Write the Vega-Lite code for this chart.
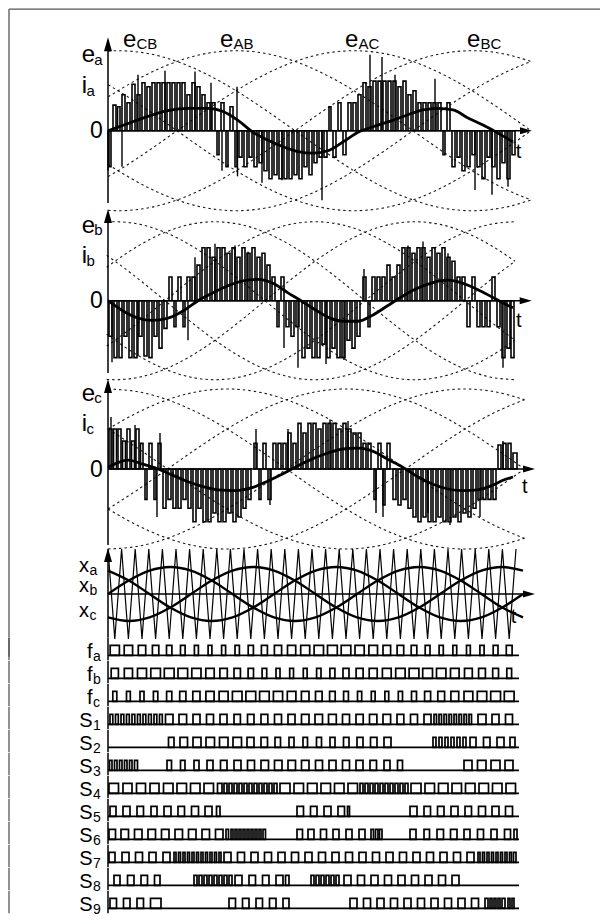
{
"$schema":"https://vega.github.io/schema/vega-lite/v6.json",
"padding":0,"spacing":0,"bounds":"flush","background":"white",
"config":{"view":{"stroke":null},"axis":{"disable":true},"text":{"font":"Liberation Sans","color":"black"},"facet":{"spacing":0},"concat":{"spacing":0}},
"datasets":{
"volt":[
{"h":-5,"k":0,"v":0.996},{"h":0,"k":0,"v":1},{"h":15,"k":0,"v":0.966},{"h":30,"k":0,"v":0.866},{"h":45,"k":0,"v":0.707},{"h":60,"k":0,"v":0.5},{"h":75,"k":0,"v":0.259},{"h":90,"k":0,"v":0},{"h":105,"k":0,"v":-0.259},{"h":120,"k":0,"v":-0.5},{"h":135,"k":0,"v":-0.707},{"h":150,"k":0,"v":-0.866},{"h":165,"k":0,"v":-0.966},{"h":180,"k":0,"v":-1},{"h":195,"k":0,"v":-0.966},{"h":210,"k":0,"v":-0.866},{"h":225,"k":0,"v":-0.707},{"h":240,"k":0,"v":-0.5},
{"h":-5,"k":1,"v":0.574},{"h":0,"k":1,"v":0.5},{"h":15,"k":1,"v":0.259},{"h":30,"k":1,"v":0},{"h":45,"k":1,"v":-0.259},{"h":60,"k":1,"v":-0.5},{"h":75,"k":1,"v":-0.707},{"h":90,"k":1,"v":-0.866},{"h":105,"k":1,"v":-0.966},{"h":120,"k":1,"v":-1},{"h":135,"k":1,"v":-0.966},{"h":150,"k":1,"v":-0.866},{"h":165,"k":1,"v":-0.707},{"h":180,"k":1,"v":-0.5},{"h":195,"k":1,"v":-0.259},{"h":210,"k":1,"v":0},{"h":225,"k":1,"v":0.259},{"h":240,"k":1,"v":0.5},
{"h":-5,"k":2,"v":-0.423},{"h":0,"k":2,"v":-0.5},{"h":15,"k":2,"v":-0.707},{"h":30,"k":2,"v":-0.866},{"h":45,"k":2,"v":-0.966},{"h":60,"k":2,"v":-1},{"h":75,"k":2,"v":-0.966},{"h":90,"k":2,"v":-0.866},{"h":105,"k":2,"v":-0.707},{"h":120,"k":2,"v":-0.5},{"h":135,"k":2,"v":-0.259},{"h":150,"k":2,"v":0},{"h":165,"k":2,"v":0.259},{"h":180,"k":2,"v":0.5},{"h":195,"k":2,"v":0.707},{"h":210,"k":2,"v":0.866},{"h":225,"k":2,"v":0.966},{"h":240,"k":2,"v":1},
{"h":-5,"k":3,"v":-0.996},{"h":0,"k":3,"v":-1},{"h":15,"k":3,"v":-0.966},{"h":30,"k":3,"v":-0.866},{"h":45,"k":3,"v":-0.707},{"h":60,"k":3,"v":-0.5},{"h":75,"k":3,"v":-0.259},{"h":90,"k":3,"v":0},{"h":105,"k":3,"v":0.259},{"h":120,"k":3,"v":0.5},{"h":135,"k":3,"v":0.707},{"h":150,"k":3,"v":0.866},{"h":165,"k":3,"v":0.966},{"h":180,"k":3,"v":1},{"h":195,"k":3,"v":0.966},{"h":210,"k":3,"v":0.866},{"h":225,"k":3,"v":0.707},{"h":240,"k":3,"v":0.5},
{"h":-5,"k":4,"v":-0.574},{"h":0,"k":4,"v":-0.5},{"h":15,"k":4,"v":-0.259},{"h":30,"k":4,"v":0},{"h":45,"k":4,"v":0.259},{"h":60,"k":4,"v":0.5},{"h":75,"k":4,"v":0.707},{"h":90,"k":4,"v":0.866},{"h":105,"k":4,"v":0.966},{"h":120,"k":4,"v":1},{"h":135,"k":4,"v":0.966},{"h":150,"k":4,"v":0.866},{"h":165,"k":4,"v":0.707},{"h":180,"k":4,"v":0.5},{"h":195,"k":4,"v":0.259},{"h":210,"k":4,"v":0},{"h":225,"k":4,"v":-0.259},{"h":240,"k":4,"v":-0.5},
{"h":-5,"k":5,"v":0.423},{"h":0,"k":5,"v":0.5},{"h":15,"k":5,"v":0.707},{"h":30,"k":5,"v":0.866},{"h":45,"k":5,"v":0.966},{"h":60,"k":5,"v":1},{"h":75,"k":5,"v":0.966},{"h":90,"k":5,"v":0.866},{"h":105,"k":5,"v":0.707},{"h":120,"k":5,"v":0.5},{"h":135,"k":5,"v":0.259},{"h":150,"k":5,"v":0},{"h":165,"k":5,"v":-0.259},{"h":180,"k":5,"v":-0.5},{"h":195,"k":5,"v":-0.707},{"h":210,"k":5,"v":-0.866},{"h":225,"k":5,"v":-0.966},{"h":240,"k":5,"v":-1}
],
"cur":[
{"p":"a","t":0,"v":0},{"p":"a","t":20,"v":0.09},{"p":"a","t":40,"v":0.18},{"p":"a","t":60,"v":0.25},{"p":"a","t":80,"v":0.28},{"p":"a","t":100,"v":0.28},{"p":"a","t":115,"v":0.24},{"p":"a","t":130,"v":0.13},{"p":"a","t":145,"v":-0.02},{"p":"a","t":160,"v":-0.12},{"p":"a","t":175,"v":-0.2},{"p":"a","t":190,"v":-0.26},{"p":"a","t":205,"v":-0.28},{"p":"a","t":220,"v":-0.25},{"p":"a","t":235,"v":-0.14},{"p":"a","t":250,"v":-0.02},{"p":"a","t":265,"v":0.05},{"p":"a","t":280,"v":0.11},{"p":"a","t":300,"v":0.2},{"p":"a","t":315,"v":0.26},{"p":"a","t":330,"v":0.28},{"p":"a","t":345,"v":0.26},{"p":"a","t":360,"v":0.16},{"p":"a","t":375,"v":0.07},{"p":"a","t":390,"v":-0.03},{"p":"a","t":405,"v":-0.14},
{"p":"b","t":0,"v":0},{"p":"b","t":15,"v":-0.13},{"p":"b","t":30,"v":-0.22},{"p":"b","t":44,"v":-0.25},{"p":"b","t":60,"v":-0.22},{"p":"b","t":75,"v":-0.13},{"p":"b","t":90,"v":0},{"p":"b","t":105,"v":0.1},{"p":"b","t":120,"v":0.19},{"p":"b","t":135,"v":0.25},{"p":"b","t":150,"v":0.27},{"p":"b","t":165,"v":0.22},{"p":"b","t":180,"v":0.1},{"p":"b","t":193,"v":0},{"p":"b","t":208,"v":-0.12},{"p":"b","t":222,"v":-0.22},{"p":"b","t":236,"v":-0.26},{"p":"b","t":250,"v":-0.26},{"p":"b","t":265,"v":-0.18},{"p":"b","t":280,"v":-0.06},{"p":"b","t":295,"v":0.06},{"p":"b","t":310,"v":0.16},{"p":"b","t":325,"v":0.23},{"p":"b","t":340,"v":0.26},{"p":"b","t":355,"v":0.22},{"p":"b","t":370,"v":0.14},{"p":"b","t":385,"v":0.04},{"p":"b","t":400,"v":-0.06},{"p":"b","t":405,"v":-0.09},
{"p":"c","t":0,"v":0.02},{"p":"c","t":10,"v":0.08},{"p":"c","t":20,"v":0.11},{"p":"c","t":35,"v":0.06},{"p":"c","t":50,"v":0},{"p":"c","t":65,"v":-0.08},{"p":"c","t":80,"v":-0.16},{"p":"c","t":95,"v":-0.22},{"p":"c","t":110,"v":-0.26},{"p":"c","t":127,"v":-0.27},{"p":"c","t":145,"v":-0.23},{"p":"c","t":160,"v":-0.15},{"p":"c","t":175,"v":-0.06},{"p":"c","t":190,"v":0.04},{"p":"c","t":205,"v":0.13},{"p":"c","t":220,"v":0.2},{"p":"c","t":235,"v":0.25},{"p":"c","t":250,"v":0.26},{"p":"c","t":265,"v":0.22},{"p":"c","t":280,"v":0.12},{"p":"c","t":295,"v":0.02},{"p":"c","t":310,"v":-0.1},{"p":"c","t":325,"v":-0.19},{"p":"c","t":340,"v":-0.25},{"p":"c","t":355,"v":-0.27},{"p":"c","t":370,"v":-0.26},{"p":"c","t":385,"v":-0.2},{"p":"c","t":395,"v":-0.14},{"p":"c","t":405,"v":-0.1}
],
"pwm":[
{"p":"a","a":1,"b":3,"v":-0.45},{"p":"a","a":5,"b":8,"v":0.32},{"p":"a","a":9.5,"b":12,"v":0.3},{"p":"a","a":14,"b":17,"v":0.45},{"p":"a","a":19,"b":22,"v":0.35},{"p":"a","a":24,"b":27,"v":0.58},{"p":"a","a":29,"b":32,"v":0.45},{"p":"a","a":34,"b":37,"v":0.6},{"p":"a","a":39,"b":42,"v":0.55},{"p":"a","a":44,"b":47,"v":0.6},{"p":"a","a":49,"b":52,"v":0.6},{"p":"a","a":54,"b":57,"v":0.6},{"p":"a","a":59,"b":62,"v":0.6},{"p":"a","a":64,"b":67,"v":0.6},{"p":"a","a":69,"b":72,"v":0.6},{"p":"a","a":74,"b":77,"v":0.6},{"p":"a","a":79,"b":82,"v":0.45},{"p":"a","a":84,"b":87,"v":0.6},{"p":"a","a":89,"b":92,"v":0.55},{"p":"a","a":94,"b":97,"v":0.45},{"p":"a","a":99,"b":102,"v":0.35},{"p":"a","a":104,"b":107,"v":0.35},{"p":"a","a":109,"b":111,"v":-0.3},{"p":"a","a":113,"b":116,"v":0.35},{"p":"a","a":118,"b":120,"v":-0.45},{"p":"a","a":122,"b":125,"v":0.3},{"p":"a","a":127,"b":129,"v":-0.45},{"p":"a","a":131,"b":134,"v":-0.33},{"p":"a","a":136,"b":139,"v":-0.45},{"p":"a","a":141,"b":144,"v":-0.33},{"p":"a","a":146,"b":149,"v":-0.45},{"p":"a","a":151,"b":154,"v":-0.4},{"p":"a","a":156,"b":159,"v":-0.5},{"p":"a","a":161,"b":164,"v":-0.6},{"p":"a","a":166,"b":169,"v":-0.55},{"p":"a","a":171,"b":174,"v":-0.6},{"p":"a","a":176,"b":179,"v":-0.6},{"p":"a","a":181,"b":184,"v":-0.6},{"p":"a","a":186,"b":189,"v":-0.55},{"p":"a","a":191,"b":194,"v":-0.6},{"p":"a","a":196,"b":199,"v":-0.45},{"p":"a","a":201,"b":204,"v":-0.55},{"p":"a","a":206,"b":209,"v":-0.4},{"p":"a","a":211,"b":214,"v":-0.33},{"p":"a","a":216,"b":219,"v":-0.33},{"p":"a","a":221,"b":223,"v":0.3},{"p":"a","a":225,"b":228,"v":-0.33},{"p":"a","a":230,"b":233,"v":0.35},{"p":"a","a":235,"b":238,"v":-0.3},{"p":"a","a":240,"b":243,"v":0.35},{"p":"a","a":245,"b":248,"v":0.35},{"p":"a","a":250,"b":253,"v":0.45},{"p":"a","a":255,"b":258,"v":0.6},{"p":"a","a":260,"b":263,"v":0.55},{"p":"a","a":265,"b":268,"v":0.62},{"p":"a","a":270,"b":273,"v":0.62},{"p":"a","a":275,"b":278,"v":0.62},{"p":"a","a":280,"b":283,"v":0.62},{"p":"a","a":285,"b":288,"v":0.62},{"p":"a","a":290,"b":293,"v":0.55},{"p":"a","a":295,"b":298,"v":0.62},{"p":"a","a":300,"b":303,"v":0.45},{"p":"a","a":305,"b":308,"v":0.5},{"p":"a","a":310,"b":313,"v":0.35},{"p":"a","a":315,"b":318,"v":0.35},{"p":"a","a":320,"b":323,"v":0.35},{"p":"a","a":325,"b":328,"v":0.35},{"p":"a","a":330,"b":333,"v":0.35},{"p":"a","a":335,"b":337,"v":-0.3},{"p":"a","a":339,"b":342,"v":0.35},{"p":"a","a":344,"b":347,"v":-0.45},{"p":"a","a":349,"b":352,"v":-0.33},{"p":"a","a":354,"b":357,"v":-0.5},{"p":"a","a":359,"b":362,"v":-0.45},{"p":"a","a":364,"b":367,"v":-0.3},{"p":"a","a":369,"b":372,"v":-0.45},{"p":"a","a":374,"b":377,"v":-0.6},{"p":"a","a":379,"b":382,"v":-0.33},{"p":"a","a":384,"b":387,"v":-0.45},{"p":"a","a":389,"b":392,"v":-0.6},{"p":"a","a":394,"b":397,"v":-0.4},{"p":"a","a":399,"b":402,"v":-0.6},{"p":"a","a":404,"b":407,"v":-0.3},
{"p":"b","a":1,"b":4,"v":-0.45},{"p":"b","a":6,"b":9,"v":-0.72},{"p":"b","a":11,"b":14,"v":-0.72},{"p":"b","a":16,"b":19,"v":-0.45},{"p":"b","a":21,"b":24,"v":-0.72},{"p":"b","a":26,"b":29,"v":-0.72},{"p":"b","a":31,"b":34,"v":-0.45},{"p":"b","a":36,"b":39,"v":-0.7},{"p":"b","a":41,"b":44,"v":-0.72},{"p":"b","a":46,"b":49,"v":-0.45},{"p":"b","a":51,"b":54,"v":-0.6},{"p":"b","a":56,"b":59,"v":-0.35},{"p":"b","a":61,"b":64,"v":0.3},{"p":"b","a":66,"b":68,"v":-0.33},{"p":"b","a":70,"b":73,"v":0.3},{"p":"b","a":75,"b":77,"v":-0.33},{"p":"b","a":79,"b":82,"v":0.3},{"p":"b","a":84,"b":87,"v":0.3},{"p":"b","a":89,"b":92,"v":0.45},{"p":"b","a":94,"b":97,"v":0.67},{"p":"b","a":99,"b":102,"v":0.67},{"p":"b","a":104,"b":107,"v":0.55},{"p":"b","a":109,"b":112,"v":0.67},{"p":"b","a":114,"b":117,"v":0.67},{"p":"b","a":119,"b":122,"v":0.6},{"p":"b","a":124,"b":127,"v":0.67},{"p":"b","a":129,"b":132,"v":0.55},{"p":"b","a":134,"b":137,"v":0.67},{"p":"b","a":139,"b":142,"v":0.6},{"p":"b","a":144,"b":147,"v":0.67},{"p":"b","a":149,"b":152,"v":0.55},{"p":"b","a":154,"b":157,"v":0.6},{"p":"b","a":159,"b":162,"v":0.45},{"p":"b","a":164,"b":167,"v":0.3},{"p":"b","a":169,"b":171,"v":-0.33},{"p":"b","a":173,"b":176,"v":0.3},{"p":"b","a":178,"b":181,"v":-0.33},{"p":"b","a":183,"b":186,"v":-0.45},{"p":"b","a":188,"b":191,"v":-0.33},{"p":"b","a":194,"b":197,"v":-0.72},{"p":"b","a":199,"b":202,"v":-0.6},{"p":"b","a":204,"b":207,"v":-0.72},{"p":"b","a":209,"b":212,"v":-0.72},{"p":"b","a":214,"b":217,"v":-0.55},{"p":"b","a":219,"b":222,"v":-0.72},{"p":"b","a":224,"b":227,"v":-0.6},{"p":"b","a":229,"b":232,"v":-0.72},{"p":"b","a":234,"b":237,"v":-0.72},{"p":"b","a":239,"b":242,"v":-0.5},{"p":"b","a":244,"b":247,"v":-0.6},{"p":"b","a":249,"b":252,"v":-0.45},{"p":"b","a":255,"b":258,"v":0.3},{"p":"b","a":260,"b":262,"v":-0.33},{"p":"b","a":264,"b":267,"v":0.3},{"p":"b","a":269,"b":272,"v":0.3},{"p":"b","a":274,"b":277,"v":0.3},{"p":"b","a":279,"b":282,"v":0.45},{"p":"b","a":284,"b":287,"v":0.3},{"p":"b","a":289,"b":292,"v":0.45},{"p":"b","a":294,"b":297,"v":0.67},{"p":"b","a":299,"b":302,"v":0.67},{"p":"b","a":304,"b":307,"v":0.6},{"p":"b","a":309,"b":312,"v":0.67},{"p":"b","a":314,"b":317,"v":0.67},{"p":"b","a":319,"b":322,"v":0.55},{"p":"b","a":324,"b":327,"v":0.67},{"p":"b","a":329,"b":332,"v":0.6},{"p":"b","a":334,"b":337,"v":0.67},{"p":"b","a":339,"b":342,"v":0.55},{"p":"b","a":344,"b":347,"v":0.5},{"p":"b","a":349,"b":352,"v":0.3},{"p":"b","a":354,"b":357,"v":0.3},{"p":"b","a":359,"b":362,"v":-0.33},{"p":"b","a":364,"b":367,"v":0.3},{"p":"b","a":369,"b":372,"v":-0.33},{"p":"b","a":374,"b":377,"v":-0.33},{"p":"b","a":379,"b":382,"v":-0.33},{"p":"b","a":384,"b":387,"v":0.3},{"p":"b","a":389,"b":392,"v":-0.33},{"p":"b","a":394,"b":397,"v":-0.72},{"p":"b","a":399,"b":402,"v":-0.6},{"p":"b","a":403,"b":406,"v":-0.72},
{"p":"c","a":1,"b":4,"v":0.5},{"p":"c","a":5.5,"b":8.5,"v":0.5},{"p":"c","a":10,"b":13,"v":0.5},{"p":"c","a":14.5,"b":17.5,"v":0.35},{"p":"c","a":19,"b":22,"v":0.5},{"p":"c","a":23.5,"b":26.5,"v":0.35},{"p":"c","a":28,"b":31,"v":0.5},{"p":"c","a":32.5,"b":35,"v":0.32},{"p":"c","a":37,"b":39,"v":-0.38},{"p":"c","a":41,"b":44,"v":0.32},{"p":"c","a":46,"b":48,"v":-0.38},{"p":"c","a":50,"b":53,"v":0.32},{"p":"c","a":55,"b":58,"v":-0.49},{"p":"c","a":60,"b":63,"v":-0.38},{"p":"c","a":65,"b":68,"v":-0.49},{"p":"c","a":70,"b":73,"v":-0.49},{"p":"c","a":75,"b":78,"v":-0.38},{"p":"c","a":80,"b":83,"v":-0.49},{"p":"c","a":85,"b":88,"v":-0.66},{"p":"c","a":90,"b":93,"v":-0.49},{"p":"c","a":95,"b":98,"v":-0.66},{"p":"c","a":100,"b":103,"v":-0.66},{"p":"c","a":105,"b":108,"v":-0.55},{"p":"c","a":110,"b":113,"v":-0.66},{"p":"c","a":115,"b":118,"v":-0.66},{"p":"c","a":120,"b":123,"v":-0.55},{"p":"c","a":125,"b":128,"v":-0.66},{"p":"c","a":130,"b":133,"v":-0.6},{"p":"c","a":135,"b":138,"v":-0.49},{"p":"c","a":140,"b":143,"v":-0.38},{"p":"c","a":146,"b":149,"v":0.32},{"p":"c","a":151,"b":153,"v":-0.38},{"p":"c","a":155,"b":158,"v":0.32},{"p":"c","a":160,"b":163,"v":-0.38},{"p":"c","a":165,"b":168,"v":0.32},{"p":"c","a":170,"b":173,"v":0.32},{"p":"c","a":175,"b":178,"v":0.32},{"p":"c","a":180,"b":183,"v":0.45},{"p":"c","a":185,"b":188,"v":0.32},{"p":"c","a":190,"b":193,"v":0.57},{"p":"c","a":195,"b":198,"v":0.45},{"p":"c","a":200,"b":203,"v":0.57},{"p":"c","a":205,"b":208,"v":0.57},{"p":"c","a":210,"b":213,"v":0.5},{"p":"c","a":215,"b":218,"v":0.57},{"p":"c","a":220,"b":223,"v":0.57},{"p":"c","a":225,"b":228,"v":0.57},{"p":"c","a":230,"b":233,"v":0.5},{"p":"c","a":235,"b":238,"v":0.57},{"p":"c","a":240,"b":243,"v":0.5},{"p":"c","a":245,"b":248,"v":0.45},{"p":"c","a":250,"b":253,"v":0.45},{"p":"c","a":255,"b":258,"v":0.32},{"p":"c","a":260,"b":263,"v":0.32},{"p":"c","a":266,"b":268,"v":-0.38},{"p":"c","a":270,"b":273,"v":0.32},{"p":"c","a":275,"b":277,"v":-0.45},{"p":"c","a":279,"b":282,"v":0.32},{"p":"c","a":285,"b":288,"v":-0.38},{"p":"c","a":290,"b":293,"v":-0.45},{"p":"c","a":295,"b":298,"v":-0.38},{"p":"c","a":300,"b":303,"v":-0.49},{"p":"c","a":305,"b":308,"v":-0.6},{"p":"c","a":310,"b":313,"v":-0.66},{"p":"c","a":315,"b":318,"v":-0.6},{"p":"c","a":320,"b":323,"v":-0.66},{"p":"c","a":325,"b":328,"v":-0.66},{"p":"c","a":330,"b":333,"v":-0.6},{"p":"c","a":335,"b":338,"v":-0.66},{"p":"c","a":340,"b":343,"v":-0.66},{"p":"c","a":345,"b":348,"v":-0.6},{"p":"c","a":350,"b":353,"v":-0.66},{"p":"c","a":355,"b":358,"v":-0.55},{"p":"c","a":360,"b":363,"v":-0.6},{"p":"c","a":365,"b":368,"v":-0.49},{"p":"c","a":370,"b":373,"v":-0.38},{"p":"c","a":375,"b":378,"v":-0.38},{"p":"c","a":380,"b":383,"v":-0.38},{"p":"c","a":385,"b":388,"v":-0.38},{"p":"c","a":390,"b":393,"v":0.3},{"p":"c","a":395,"b":398,"v":0.32},{"p":"c","a":400,"b":403,"v":0.32},{"p":"c","a":405,"b":409,"v":0.2}
],
"spk":[
{"p":"a","t":0,"v":-0.5},{"p":"a","t":14,"v":-0.45},{"p":"a","t":30,"v":0.7},{"p":"a","t":57,"v":0.75},{"p":"a","t":87,"v":0.74},{"p":"a","t":103,"v":0.6},{"p":"a","t":114,"v":-0.5},{"p":"a","t":129,"v":0.55},{"p":"a","t":129.5,"v":-0.57},{"p":"a","t":154,"v":-0.65},{"p":"a","t":174,"v":-0.62},{"p":"a","t":214,"v":-0.87},{"p":"a","t":262,"v":0.95},{"p":"a","t":274,"v":0.92},{"p":"a","t":287,"v":0.7},{"p":"a","t":327,"v":0.65},{"p":"a","t":367,"v":-0.74},{"p":"a","t":384,"v":-0.8},{"p":"a","t":400,"v":-0.7},
{"p":"b","t":4,"v":-0.78},{"p":"b","t":30,"v":-0.7},{"p":"b","t":80,"v":-0.5},{"p":"b","t":87,"v":0.55},{"p":"b","t":107,"v":0.72},{"p":"b","t":127,"v":0.7},{"p":"b","t":140,"v":0.62},{"p":"b","t":176,"v":-0.6},{"p":"b","t":190,"v":-0.85},{"p":"b","t":218,"v":-0.8},{"p":"b","t":236,"v":-0.75},{"p":"b","t":256,"v":0.4},{"p":"b","t":300,"v":0.7},{"p":"b","t":315,"v":0.75},{"p":"b","t":340,"v":0.6},{"p":"b","t":395,"v":-0.85},
{"p":"c","t":3,"v":0.65},{"p":"c","t":27,"v":0.55},{"p":"c","t":49,"v":-0.6},{"p":"c","t":52,"v":0.45},{"p":"c","t":148,"v":0.5},{"p":"c","t":162,"v":-0.45},{"p":"c","t":180,"v":0.5},{"p":"c","t":222,"v":0.62},{"p":"c","t":240,"v":0.6},{"p":"c","t":268,"v":-0.55},{"p":"c","t":275,"v":-0.6},{"p":"c","t":320,"v":-0.55},{"p":"c","t":342,"v":-0.7},{"p":"c","t":372,"v":-0.6},{"p":"c","t":395,"v":0.35}
],
"car":[
{"t":0,"v":1},{"t":6.8,"v":-1},{"t":13.6,"v":1},{"t":20.4,"v":-1},{"t":27.2,"v":1},{"t":34,"v":-1},{"t":40.8,"v":1},{"t":47.6,"v":-1},{"t":54.4,"v":1},{"t":61.2,"v":-1},{"t":68,"v":1},{"t":74.8,"v":-1},{"t":81.6,"v":1},{"t":88.4,"v":-1},{"t":95.2,"v":1},{"t":102,"v":-1},{"t":108.8,"v":1},{"t":115.6,"v":-1},{"t":122.4,"v":1},{"t":129.2,"v":-1},{"t":136,"v":1},{"t":142.8,"v":-1},{"t":149.6,"v":1},{"t":156.4,"v":-1},{"t":163.2,"v":1},{"t":170,"v":-1},{"t":176.8,"v":1},{"t":183.6,"v":-1},{"t":190.4,"v":1},{"t":197.2,"v":-1},{"t":204,"v":1},{"t":210.8,"v":-1},{"t":217.6,"v":1},{"t":224.4,"v":-1},{"t":231.2,"v":1},{"t":238,"v":-1},{"t":244.8,"v":1},{"t":251.6,"v":-1},{"t":258.4,"v":1},{"t":265.2,"v":-1},{"t":272,"v":1},{"t":278.8,"v":-1},{"t":285.6,"v":1},{"t":292.4,"v":-1},{"t":299.2,"v":1},{"t":306,"v":-1},{"t":312.8,"v":1},{"t":319.6,"v":-1},{"t":326.4,"v":1},{"t":333.2,"v":-1},{"t":340,"v":1},{"t":346.8,"v":-1},{"t":353.6,"v":1},{"t":360.4,"v":-1},{"t":367.2,"v":1},{"t":374,"v":-1},{"t":380.8,"v":1},{"t":387.6,"v":-1},{"t":394.4,"v":1},{"t":401.2,"v":-1},{"t":408,"v":1}
],
"mod":[
{"n":"a","t":0,"v":0.52},{"n":"a","t":20.75,"v":0.3},{"n":"a","t":41.5,"v":0},{"n":"a","t":62.25,"v":-0.3},{"n":"a","t":83,"v":-0.52},{"n":"a","t":103.75,"v":-0.6},{"n":"a","t":124.5,"v":-0.52},{"n":"a","t":145.25,"v":-0.3},{"n":"a","t":166,"v":0},{"n":"a","t":186.75,"v":0.3},{"n":"a","t":207.5,"v":0.52},{"n":"a","t":228.25,"v":0.6},{"n":"a","t":249,"v":0.52},{"n":"a","t":269.75,"v":0.3},{"n":"a","t":290.5,"v":0},{"n":"a","t":311.25,"v":-0.3},{"n":"a","t":332,"v":-0.52},{"n":"a","t":352.75,"v":-0.6},{"n":"a","t":373.5,"v":-0.52},{"n":"a","t":394.25,"v":-0.3},{"n":"a","t":415,"v":0},
{"n":"b","t":0,"v":0},{"n":"b","t":20.75,"v":0.3},{"n":"b","t":41.5,"v":0.52},{"n":"b","t":62.25,"v":0.6},{"n":"b","t":83,"v":0.52},{"n":"b","t":103.75,"v":0.3},{"n":"b","t":124.5,"v":0},{"n":"b","t":145.25,"v":-0.3},{"n":"b","t":166,"v":-0.52},{"n":"b","t":186.75,"v":-0.6},{"n":"b","t":207.5,"v":-0.52},{"n":"b","t":228.25,"v":-0.3},{"n":"b","t":249,"v":0},{"n":"b","t":269.75,"v":0.3},{"n":"b","t":290.5,"v":0.52},{"n":"b","t":311.25,"v":0.6},{"n":"b","t":332,"v":0.52},{"n":"b","t":352.75,"v":0.3},{"n":"b","t":373.5,"v":0},{"n":"b","t":394.25,"v":-0.3},{"n":"b","t":415,"v":-0.52},
{"n":"c","t":0,"v":-0.52},{"n":"c","t":20.75,"v":-0.6},{"n":"c","t":41.5,"v":-0.52},{"n":"c","t":62.25,"v":-0.3},{"n":"c","t":83,"v":0},{"n":"c","t":103.75,"v":0.3},{"n":"c","t":124.5,"v":0.52},{"n":"c","t":145.25,"v":0.6},{"n":"c","t":166,"v":0.52},{"n":"c","t":186.75,"v":0.3},{"n":"c","t":207.5,"v":0},{"n":"c","t":228.25,"v":-0.3},{"n":"c","t":249,"v":-0.52},{"n":"c","t":269.75,"v":-0.6},{"n":"c","t":290.5,"v":-0.52},{"n":"c","t":311.25,"v":-0.3},{"n":"c","t":332,"v":0},{"n":"c","t":352.75,"v":0.3},{"n":"c","t":373.5,"v":0.52},{"n":"c","t":394.25,"v":0.6},{"n":"c","t":415,"v":0.52}
],
"pul":[
{"s":"fa","m":"f","u":"a"},{"s":"fb","m":"f","u":"b"},{"s":"fc","m":"f","u":"c"},{"s":"S1","m":"S","u":"1"},{"s":"S2","m":"S","u":"2"},{"s":"S3","m":"S","u":"3"},{"s":"S4","m":"S","u":"4"},{"s":"S5","m":"S","u":"5"},{"s":"S6","m":"S","u":"6"},{"s":"S7","m":"S","u":"7"},{"s":"S8","m":"S","u":"8"},{"s":"S9","m":"S","u":"9"},
{"s":"fa","a":2.2,"b":11.4},{"s":"fa","a":16.2,"b":24.6},{"s":"fa","a":30.3,"b":37.7},{"s":"fa","a":44.4,"b":50.8},{"s":"fa","a":58.5,"b":63.9},{"s":"fa","a":72.5,"b":77.1},{"s":"fa","a":86.4,"b":90.4},{"s":"fa","a":100.1,"b":103.9},{"s":"fa","a":113.6,"b":117.6},{"s":"fa","a":127,"b":131.4},{"s":"fa","a":140.2,"b":145.4},{"s":"fa","a":153.4,"b":159.4},{"s":"fa","a":166.4,"b":173.6},{"s":"fa","a":179.5,"b":187.7},{"s":"fa","a":192.7,"b":201.7},{"s":"fa","a":206.1,"b":215.5},{"s":"fa","a":219.5,"b":229.3},{"s":"fa","a":233.2,"b":242.8},{"s":"fa","a":247,"b":256.2},{"s":"fa","a":260.9,"b":269.5},{"s":"fa","a":275,"b":282.6},{"s":"fa","a":289.1,"b":295.7},{"s":"fa","a":303.2,"b":308.8},{"s":"fa","a":317.2,"b":322},{"s":"fa","a":331.1,"b":335.3},{"s":"fa","a":344.9,"b":348.7},{"s":"fa","a":358.5,"b":362.3},{"s":"fa","a":371.9,"b":376.1},{"s":"fa","a":385.2,"b":390},{"s":"fa","a":398.3,"b":404.1},
{"s":"fb","a":3.2,"b":10.4},{"s":"fb","a":16.3,"b":24.5},{"s":"fb","a":29.5,"b":38.5},{"s":"fb","a":42.8,"b":52.4},{"s":"fb","a":56.3,"b":66.1},{"s":"fb","a":70,"b":79.6},{"s":"fb","a":83.8,"b":93},{"s":"fb","a":97.8,"b":106.2},{"s":"fb","a":111.9,"b":119.3},{"s":"fb","a":126,"b":132.4},{"s":"fb","a":140.1,"b":145.5},{"s":"fb","a":154.1,"b":158.7},{"s":"fb","a":168,"b":172},{"s":"fb","a":181.7,"b":185.5},{"s":"fb","a":195.3,"b":199.1},{"s":"fb","a":208.6,"b":213},{"s":"fb","a":221.9,"b":226.9},{"s":"fb","a":235,"b":241},{"s":"fb","a":248.1,"b":255.1},{"s":"fb","a":261.2,"b":269.2},{"s":"fb","a":274.4,"b":283.2},{"s":"fb","a":287.7,"b":297.1},{"s":"fb","a":301.1,"b":310.9},{"s":"fb","a":314.7,"b":324.5},{"s":"fb","a":328.5,"b":337.9},{"s":"fb","a":342.5,"b":351.1},{"s":"fb","a":356.5,"b":364.3},{"s":"fb","a":370.6,"b":377.4},{"s":"fb","a":384.7,"b":390.5},{"s":"fb","a":398.8,"b":403.6},
{"s":"fc","a":4.8,"b":8.8},{"s":"fc","a":18.5,"b":22.3},{"s":"fc","a":32,"b":36},{"s":"fc","a":45.4,"b":49.8},{"s":"fc","a":58.6,"b":63.8},{"s":"fc","a":71.7,"b":77.9},{"s":"fc","a":84.8,"b":92},{"s":"fc","a":97.9,"b":106.1},{"s":"fc","a":111.1,"b":120.1},{"s":"fc","a":124.4,"b":134},{"s":"fc","a":137.9,"b":147.7},{"s":"fc","a":151.6,"b":161.2},{"s":"fc","a":165.4,"b":174.6},{"s":"fc","a":179.3,"b":187.9},{"s":"fc","a":193.4,"b":201},{"s":"fc","a":207.5,"b":214.1},{"s":"fc","a":221.6,"b":227.2},{"s":"fc","a":235.6,"b":240.4},{"s":"fc","a":249.5,"b":253.7},{"s":"fc","a":263.3,"b":267.1},{"s":"fc","a":276.9,"b":280.7},{"s":"fc","a":290.3,"b":294.5},{"s":"fc","a":303.5,"b":308.5},{"s":"fc","a":316.6,"b":322.6},{"s":"fc","a":329.8,"b":336.6},{"s":"fc","a":342.9,"b":350.7},{"s":"fc","a":356,"b":364.8},{"s":"fc","a":369.3,"b":378.7},{"s":"fc","a":382.7,"b":392.5},{"s":"fc","a":396.3,"b":406.1},
{"s":"S1","a":2,"b":4.8},{"s":"S1","a":7.5,"b":10.3},{"s":"S1","a":13,"b":15.8},{"s":"S1","a":18.5,"b":21.3},{"s":"S1","a":24,"b":26.8},{"s":"S1","a":29.5,"b":32.3},{"s":"S1","a":35,"b":37.8},{"s":"S1","a":40.5,"b":43.3},{"s":"S1","a":46,"b":48.8},{"s":"S1","a":51.5,"b":54.3},{"s":"S1","a":57.5,"b":65},{"s":"S1","a":71,"b":78.6},{"s":"S1","a":85,"b":92},{"s":"S1","a":98.5,"b":105.5},{"s":"S1","a":112,"b":119},{"s":"S1","a":126,"b":132.4},{"s":"S1","a":139.5,"b":146},{"s":"S1","a":153,"b":159.8},{"s":"S1","a":166.5,"b":173.5},{"s":"S1","a":180,"b":187},{"s":"S1","a":193.5,"b":201},{"s":"S1","a":207,"b":214.5},{"s":"S1","a":220.5,"b":228.3},{"s":"S1","a":234.5,"b":241.5},{"s":"S1","a":248,"b":255.2},{"s":"S1","a":261.5,"b":268.9},{"s":"S1","a":275,"b":282.6},{"s":"S1","a":289,"b":295.8},{"s":"S1","a":302.5,"b":309.5},{"s":"S1","a":316,"b":323},{"s":"S1","a":326,"b":328.5},{"s":"S1","a":331,"b":333.5},{"s":"S1","a":336,"b":338.5},{"s":"S1","a":341,"b":343.5},{"s":"S1","a":346,"b":348.5},{"s":"S1","a":351,"b":353.5},{"s":"S1","a":356,"b":358.5},{"s":"S1","a":361,"b":363.5},{"s":"S1","a":370,"b":378},{"s":"S1","a":384,"b":391},{"s":"S1","a":397.5,"b":404.5},
{"s":"S2","a":60.5,"b":66},{"s":"S2","a":72,"b":79.5},{"s":"S2","a":85,"b":93},{"s":"S2","a":98,"b":106.5},{"s":"S2","a":111.5,"b":120},{"s":"S2","a":125,"b":133.5},{"s":"S2","a":139,"b":146},{"s":"S2","a":153,"b":159.5},{"s":"S2","a":167,"b":172.5},{"s":"S2","a":181,"b":186},{"s":"S2","a":195,"b":199.5},{"s":"S2","a":208.5,"b":213.5},{"s":"S2","a":222,"b":227},{"s":"S2","a":235.5,"b":241},{"s":"S2","a":249,"b":255},{"s":"S2","a":262.5,"b":269},{"s":"S2","a":276,"b":283},{"s":"S2","a":325,"b":328},{"s":"S2","a":331,"b":334},{"s":"S2","a":337,"b":340},{"s":"S2","a":343,"b":346},{"s":"S2","a":349,"b":352},{"s":"S2","a":355,"b":358},{"s":"S2","a":362,"b":368},{"s":"S2","a":375.5,"b":382},{"s":"S2","a":389,"b":396},{"s":"S2","a":402,"b":407},
{"s":"S3","a":1.5,"b":4},{"s":"S3","a":6.5,"b":9},{"s":"S3","a":11.5,"b":14},{"s":"S3","a":16.5,"b":19},{"s":"S3","a":21.5,"b":24},{"s":"S3","a":26.5,"b":29.5},{"s":"S3","a":59,"b":63.5},{"s":"S3","a":72.5,"b":77},{"s":"S3","a":86,"b":91},{"s":"S3","a":99,"b":105},{"s":"S3","a":112.5,"b":119},{"s":"S3","a":126,"b":133},{"s":"S3","a":139.5,"b":146.5},{"s":"S3","a":153,"b":160.5},{"s":"S3","a":166.5,"b":174},{"s":"S3","a":180,"b":187.5},{"s":"S3","a":193.5,"b":201},{"s":"S3","a":207.5,"b":214.5},{"s":"S3","a":221,"b":228},{"s":"S3","a":234.5,"b":241.5},{"s":"S3","a":248,"b":255},{"s":"S3","a":262,"b":268.5},{"s":"S3","a":276,"b":282},{"s":"S3","a":289.5,"b":294.5},{"s":"S3","a":356,"b":364},{"s":"S3","a":369.5,"b":378},{"s":"S3","a":383,"b":392},{"s":"S3","a":397,"b":405},
{"s":"S4","a":1,"b":10.5},{"s":"S4","a":15,"b":24},{"s":"S4","a":28.5,"b":37.5},{"s":"S4","a":42,"b":51},{"s":"S4","a":55.5,"b":65},{"s":"S4","a":69,"b":78.5},{"s":"S4","a":82.5,"b":92},{"s":"S4","a":96,"b":105.5},{"s":"S4","a":109.5,"b":114},{"s":"S4","a":116,"b":119},{"s":"S4","a":121,"b":124},{"s":"S4","a":126,"b":129},{"s":"S4","a":131,"b":134},{"s":"S4","a":136,"b":139},{"s":"S4","a":141,"b":144},{"s":"S4","a":146,"b":149},{"s":"S4","a":151,"b":154},{"s":"S4","a":156,"b":159},{"s":"S4","a":161,"b":164},{"s":"S4","a":166,"b":169},{"s":"S4","a":172,"b":182},{"s":"S4","a":186,"b":195.5},{"s":"S4","a":199.5,"b":209},{"s":"S4","a":213,"b":222.5},{"s":"S4","a":226.5,"b":236},{"s":"S4","a":240,"b":249.5},{"s":"S4","a":252,"b":255},{"s":"S4","a":257,"b":260},{"s":"S4","a":262,"b":265},{"s":"S4","a":267,"b":270},{"s":"S4","a":272,"b":275},{"s":"S4","a":277,"b":280},{"s":"S4","a":282,"b":285},{"s":"S4","a":287,"b":290},{"s":"S4","a":292,"b":295},{"s":"S4","a":297,"b":300},{"s":"S4","a":303,"b":313},{"s":"S4","a":317,"b":326.5},{"s":"S4","a":330.5,"b":340},{"s":"S4","a":344,"b":353.5},{"s":"S4","a":357.5,"b":367},{"s":"S4","a":371,"b":380.5},{"s":"S4","a":384.5,"b":394},{"s":"S4","a":398,"b":407.5},
{"s":"S5","a":2,"b":8},{"s":"S5","a":15,"b":22},{"s":"S5","a":29,"b":35.5},{"s":"S5","a":43,"b":49},{"s":"S5","a":56,"b":63},{"s":"S5","a":70,"b":76.5},{"s":"S5","a":83.5,"b":90.5},{"s":"S5","a":97,"b":104},{"s":"S5","a":108.5,"b":112},{"s":"S5","a":189,"b":195.5},{"s":"S5","a":202.5,"b":209},{"s":"S5","a":216,"b":223},{"s":"S5","a":230,"b":236.5},{"s":"S5","a":239.5,"b":241.5},{"s":"S5","a":302,"b":309},{"s":"S5","a":316,"b":322.5},{"s":"S5","a":329.5,"b":336},{"s":"S5","a":343,"b":350},{"s":"S5","a":357,"b":363.5},{"s":"S5","a":370.5,"b":377.5},{"s":"S5","a":384,"b":391},{"s":"S5","a":397.5,"b":404.5},
{"s":"S6","a":1,"b":7.5},{"s":"S6","a":13,"b":20.5},{"s":"S6","a":26.5,"b":34},{"s":"S6","a":40,"b":47.5},{"s":"S6","a":53.5,"b":61},{"s":"S6","a":67,"b":74.5},{"s":"S6","a":80.5,"b":88},{"s":"S6","a":94,"b":101.5},{"s":"S6","a":107.5,"b":115},{"s":"S6","a":118,"b":120.5},{"s":"S6","a":123,"b":125},{"s":"S6","a":127,"b":129},{"s":"S6","a":131,"b":133},{"s":"S6","a":135,"b":137},{"s":"S6","a":139,"b":141},{"s":"S6","a":143,"b":145},{"s":"S6","a":147,"b":149},{"s":"S6","a":151,"b":153},{"s":"S6","a":155,"b":157.5},{"s":"S6","a":189,"b":194.5},{"s":"S6","a":200,"b":206},{"s":"S6","a":212.5,"b":218.5},{"s":"S6","a":225,"b":231},{"s":"S6","a":238,"b":244},{"s":"S6","a":251,"b":257},{"s":"S6","a":263,"b":265.5},{"s":"S6","a":267.5,"b":270},{"s":"S6","a":271.5,"b":274},{"s":"S6","a":302,"b":308},{"s":"S6","a":316,"b":321.5},{"s":"S6","a":329,"b":335.5},{"s":"S6","a":342.5,"b":349},{"s":"S6","a":356,"b":362},{"s":"S6","a":369.5,"b":375.5},{"s":"S6","a":383,"b":389},{"s":"S6","a":396.5,"b":402.5},{"s":"S6","a":406,"b":409},
{"s":"S7","a":1,"b":7},{"s":"S7","a":14,"b":21},{"s":"S7","a":27.5,"b":34.5},{"s":"S7","a":41,"b":48},{"s":"S7","a":55,"b":62},{"s":"S7","a":66,"b":68},{"s":"S7","a":70.5,"b":72.5},{"s":"S7","a":75,"b":77},{"s":"S7","a":79.5,"b":81.5},{"s":"S7","a":84,"b":86},{"s":"S7","a":88.5,"b":90.5},{"s":"S7","a":93,"b":95},{"s":"S7","a":97.5,"b":99.5},{"s":"S7","a":102,"b":104},{"s":"S7","a":106.5,"b":108.5},{"s":"S7","a":111,"b":113},{"s":"S7","a":116,"b":123},{"s":"S7","a":129.5,"b":136.5},{"s":"S7","a":143,"b":150},{"s":"S7","a":156.5,"b":163.5},{"s":"S7","a":170,"b":177},{"s":"S7","a":183.5,"b":190.5},{"s":"S7","a":197,"b":204},{"s":"S7","a":210.5,"b":217.5},{"s":"S7","a":224,"b":231},{"s":"S7","a":237.5,"b":244.5},{"s":"S7","a":251,"b":258},{"s":"S7","a":264.5,"b":271.5},{"s":"S7","a":278,"b":285},{"s":"S7","a":291.5,"b":298.5},{"s":"S7","a":305,"b":312},{"s":"S7","a":318.5,"b":325.5},{"s":"S7","a":332,"b":339},{"s":"S7","a":345.5,"b":352.5},{"s":"S7","a":359,"b":366},{"s":"S7","a":370,"b":372},{"s":"S7","a":374.5,"b":376.5},{"s":"S7","a":379,"b":381},{"s":"S7","a":383.5,"b":385.5},{"s":"S7","a":388,"b":390},{"s":"S7","a":392.5,"b":394.5},{"s":"S7","a":397,"b":399},{"s":"S7","a":401.5,"b":403.5},{"s":"S7","a":405.5,"b":408},
{"s":"S8","a":6,"b":12},{"s":"S8","a":19.5,"b":26},{"s":"S8","a":33,"b":39.5},{"s":"S8","a":46.5,"b":52},{"s":"S8","a":86,"b":89},{"s":"S8","a":91,"b":94},{"s":"S8","a":96,"b":99},{"s":"S8","a":101,"b":104},{"s":"S8","a":106,"b":109},{"s":"S8","a":111,"b":114},{"s":"S8","a":116,"b":119},{"s":"S8","a":121,"b":124},{"s":"S8","a":127,"b":134},{"s":"S8","a":141,"b":147.5},{"s":"S8","a":154.5,"b":161},{"s":"S8","a":168,"b":175},{"s":"S8","a":177.5,"b":181},{"s":"S8","a":203,"b":206},{"s":"S8","a":208,"b":211},{"s":"S8","a":213,"b":216},{"s":"S8","a":218,"b":221},{"s":"S8","a":223,"b":226},{"s":"S8","a":228,"b":231},{"s":"S8","a":236,"b":243},{"s":"S8","a":249.5,"b":256.5},{"s":"S8","a":263,"b":270},{"s":"S8","a":276.5,"b":283.5},{"s":"S8","a":290,"b":297},{"s":"S8","a":303.5,"b":310.5},{"s":"S8","a":317,"b":324},{"s":"S8","a":330.5,"b":337.5},{"s":"S8","a":344,"b":351},
{"s":"S9","a":2,"b":8.5},{"s":"S9","a":15.5,"b":22},{"s":"S9","a":29,"b":35.5},{"s":"S9","a":42.5,"b":53},{"s":"S9","a":121,"b":127.5},{"s":"S9","a":134.5,"b":141},{"s":"S9","a":148,"b":154.5},{"s":"S9","a":161.5,"b":168},{"s":"S9","a":175,"b":181},{"s":"S9","a":242,"b":249},{"s":"S9","a":255.5,"b":262.5},{"s":"S9","a":269,"b":276},{"s":"S9","a":282.5,"b":289.5},{"s":"S9","a":296,"b":303},{"s":"S9","a":309.5,"b":316.5},{"s":"S9","a":323,"b":330},{"s":"S9","a":336.5,"b":343.5},{"s":"S9","a":350,"b":357},{"s":"S9","a":363.5,"b":370.5},{"s":"S9","a":377,"b":380},{"s":"S9","a":382,"b":384},{"s":"S9","a":386,"b":388},{"s":"S9","a":390,"b":392},{"s":"S9","a":394,"b":397},{"s":"S9","a":400,"b":402},{"s":"S9","a":404,"b":406}
]
},
"vconcat":[
{"width":600,"height":206,"data":{"values":[{}]},"resolve":{"scale":{"x":"independent"}},
"layer":[
{"data":{"name":"volt"},"transform":[{"filter":"datum.h<=210"}],"mark":{"type":"line","interpolate":"monotone","strokeDash":[2.5,3],"strokeWidth":1.1,"color":"#1a1a1a"},"encoding":{"x":{"field":"h","type":"quantitative","scale":{"domain":[-60,245.08],"nice":false}},"y":{"field":"v","type":"quantitative","scale":{"domain":[-0.941,1.634],"nice":false}},"detail":{"field":"k","type":"nominal"}}},
{"layer":[
{"data":{"name":"pwm"},"transform":[{"filter":"datum.p=='a'"}],"mark":{"type":"rect","filled":false,"color":"black","strokeWidth":1.6},"encoding":{"x":{"field":"a","type":"quantitative","scale":{"domain":[-108,492],"nice":false}},"x2":{"field":"b"},"y":{"field":"v","type":"quantitative","scale":{"domain":[-0.941,1.634],"nice":false}},"y2":{"datum":0}}},
{"data":{"name":"spk"},"transform":[{"filter":"datum.p=='a'"}],"mark":{"type":"rule","color":"black","strokeWidth":1.4},"encoding":{"x":{"field":"t","type":"quantitative","scale":{"domain":[-108,492],"nice":false}},"y":{"field":"v","type":"quantitative","scale":{"domain":[-0.941,1.634],"nice":false}},"y2":{"datum":0}}},
{"data":{"name":"cur"},"transform":[{"filter":"datum.p=='a'"}],"mark":{"type":"line","interpolate":"monotone","color":"black","strokeWidth":2.8},"encoding":{"x":{"field":"t","type":"quantitative","scale":{"domain":[-108,492],"nice":false}},"y":{"field":"v","type":"quantitative","scale":{"domain":[-0.941,1.634],"nice":false}}}},
{"mark":{"type":"rule","color":"black","strokeWidth":1.5},"encoding":{"x":{"datum":0,"type":"quantitative","scale":{"domain":[-108,492],"nice":false}},"x2":{"datum":418},"y":{"datum":0,"type":"quantitative","scale":{"domain":[-0.941,1.634],"nice":false}}}},
{"mark":{"type":"point","shape":"M1,0L-1,-0.57L-1,0.57Z","size":144,"filled":true,"color":"black","opacity":1},"encoding":{"x":{"datum":418,"type":"quantitative","scale":{"domain":[-108,492],"nice":false}},"y":{"datum":0,"type":"quantitative","scale":{"domain":[-0.941,1.634],"nice":false}}}},
{"mark":{"type":"rule","color":"black","strokeWidth":1.5},"encoding":{"x":{"datum":0,"type":"quantitative","scale":{"domain":[-108,492],"nice":false}},"y":{"datum":1.05,"type":"quantitative","scale":{"domain":[-0.941,1.634],"nice":false}},"y2":{"datum":-0.904}}},
{"mark":{"type":"point","shape":"M0,-1L-0.57,1L0.57,1Z","size":196,"filled":true,"color":"black","opacity":1},"encoding":{"x":{"datum":0,"type":"quantitative","scale":{"domain":[-108,492],"nice":false}},"y":{"datum":1.08,"type":"quantitative","scale":{"domain":[-0.941,1.634],"nice":false}}}},
{"mark":{"type":"rule","color":"#555","strokeWidth":1.3},"encoding":{"x":{"datum":-99,"type":"quantitative","scale":{"domain":[-108,492],"nice":false}},"x2":{"datum":492},"y":{"datum":1.521,"type":"quantitative","scale":{"domain":[-0.941,1.634],"nice":false}}}},
{"mark":{"type":"rule","color":"#555","strokeWidth":1.3},"encoding":{"x":{"datum":-99,"type":"quantitative","scale":{"domain":[-108,492],"nice":false}},"y":{"datum":1.521,"type":"quantitative","scale":{"domain":[-0.941,1.634],"nice":false}},"y2":{"datum":-0.941}}},
{"mark":{"type":"text","text":"e","fontSize":24,"align":"left","baseline":"alphabetic"},"encoding":{"x":{"datum":-26.3,"type":"quantitative","scale":{"domain":[-108,492],"nice":false}},"y":{"datum":0.853,"type":"quantitative","scale":{"domain":[-0.941,1.634],"nice":false}}}},
{"mark":{"type":"text","text":"a","fontSize":15,"align":"left","baseline":"alphabetic"},"encoding":{"x":{"datum":-13.7,"type":"quantitative","scale":{"domain":[-108,492],"nice":false}},"y":{"datum":0.82,"type":"quantitative","scale":{"domain":[-0.941,1.634],"nice":false}}}},
{"mark":{"type":"text","text":"i","fontSize":24,"align":"left","baseline":"alphabetic"},"encoding":{"x":{"datum":-26.3,"type":"quantitative","scale":{"domain":[-108,492],"nice":false}},"y":{"datum":0.471,"type":"quantitative","scale":{"domain":[-0.941,1.634],"nice":false}}}},
{"mark":{"type":"text","text":"a","fontSize":15,"align":"left","baseline":"alphabetic"},"encoding":{"x":{"datum":-21.5,"type":"quantitative","scale":{"domain":[-108,492],"nice":false}},"y":{"datum":0.434,"type":"quantitative","scale":{"domain":[-0.941,1.634],"nice":false}}}},
{"mark":{"type":"text","text":"0","fontSize":23,"align":"left","baseline":"alphabetic"},"encoding":{"x":{"datum":-18,"type":"quantitative","scale":{"domain":[-108,492],"nice":false}},"y":{"datum":-0.095,"type":"quantitative","scale":{"domain":[-0.941,1.634],"nice":false}}}},
{"mark":{"type":"text","text":"t","fontSize":20,"align":"left","baseline":"alphabetic"},"encoding":{"x":{"datum":407.7,"type":"quantitative","scale":{"domain":[-108,492],"nice":false}},"y":{"datum":-0.341,"type":"quantitative","scale":{"domain":[-0.941,1.634],"nice":false}}}},
{"mark":{"type":"text","text":"e","fontSize":24,"align":"left","baseline":"alphabetic"},"encoding":{"x":{"datum":15,"type":"quantitative","scale":{"domain":[-108,492],"nice":false}},"y":{"datum":1.046,"type":"quantitative","scale":{"domain":[-0.941,1.634],"nice":false}}}},
{"mark":{"type":"text","text":"CB","fontSize":15,"align":"left","baseline":"alphabetic"},"encoding":{"x":{"datum":28.5,"type":"quantitative","scale":{"domain":[-108,492],"nice":false}},"y":{"datum":1.021,"type":"quantitative","scale":{"domain":[-0.941,1.634],"nice":false}}}},
{"mark":{"type":"text","text":"e","fontSize":24,"align":"left","baseline":"alphabetic"},"encoding":{"x":{"datum":112,"type":"quantitative","scale":{"domain":[-108,492],"nice":false}},"y":{"datum":1.046,"type":"quantitative","scale":{"domain":[-0.941,1.634],"nice":false}}}},
{"mark":{"type":"text","text":"AB","fontSize":15,"align":"left","baseline":"alphabetic"},"encoding":{"x":{"datum":125.5,"type":"quantitative","scale":{"domain":[-108,492],"nice":false}},"y":{"datum":1.021,"type":"quantitative","scale":{"domain":[-0.941,1.634],"nice":false}}}},
{"mark":{"type":"text","text":"e","fontSize":24,"align":"left","baseline":"alphabetic"},"encoding":{"x":{"datum":237,"type":"quantitative","scale":{"domain":[-108,492],"nice":false}},"y":{"datum":1.046,"type":"quantitative","scale":{"domain":[-0.941,1.634],"nice":false}}}},
{"mark":{"type":"text","text":"AC","fontSize":15,"align":"left","baseline":"alphabetic"},"encoding":{"x":{"datum":250.5,"type":"quantitative","scale":{"domain":[-108,492],"nice":false}},"y":{"datum":1.021,"type":"quantitative","scale":{"domain":[-0.941,1.634],"nice":false}}}},
{"mark":{"type":"text","text":"e","fontSize":24,"align":"left","baseline":"alphabetic"},"encoding":{"x":{"datum":359,"type":"quantitative","scale":{"domain":[-108,492],"nice":false}},"y":{"datum":1.046,"type":"quantitative","scale":{"domain":[-0.941,1.634],"nice":false}}}},
{"mark":{"type":"text","text":"BC","fontSize":15,"align":"left","baseline":"alphabetic"},"encoding":{"x":{"datum":372.5,"type":"quantitative","scale":{"domain":[-108,492],"nice":false}},"y":{"datum":1.021,"type":"quantitative","scale":{"domain":[-0.941,1.634],"nice":false}}}}
]}
]},
{"width":600,"height":170,"data":{"values":[{}]},"resolve":{"scale":{"x":"independent"}},
"layer":[
{"data":{"name":"volt"},"transform":[{"filter":"datum.h<=240"}],"mark":{"type":"line","interpolate":"monotone","strokeDash":[2.5,3],"strokeWidth":1.1,"color":"#1a1a1a"},"encoding":{"x":{"field":"h","type":"quantitative","scale":{"domain":[-69,291],"nice":false}},"y":{"field":"v","type":"quantitative","scale":{"domain":[-0.953,1.199],"nice":false}},"detail":{"field":"k","type":"nominal"}}},
{"layer":[
{"data":{"name":"pwm"},"transform":[{"filter":"datum.p=='b'"}],"mark":{"type":"rect","filled":false,"color":"black","strokeWidth":1.6},"encoding":{"x":{"field":"a","type":"quantitative","scale":{"domain":[-108,492],"nice":false}},"x2":{"field":"b"},"y":{"field":"v","type":"quantitative","scale":{"domain":[-0.953,1.199],"nice":false}},"y2":{"datum":0}}},
{"data":{"name":"spk"},"transform":[{"filter":"datum.p=='b'"}],"mark":{"type":"rule","color":"black","strokeWidth":1.4},"encoding":{"x":{"field":"t","type":"quantitative","scale":{"domain":[-108,492],"nice":false}},"y":{"field":"v","type":"quantitative","scale":{"domain":[-0.953,1.199],"nice":false}},"y2":{"datum":0}}},
{"data":{"name":"cur"},"transform":[{"filter":"datum.p=='b'"}],"mark":{"type":"line","interpolate":"monotone","color":"black","strokeWidth":2.8},"encoding":{"x":{"field":"t","type":"quantitative","scale":{"domain":[-108,492],"nice":false}},"y":{"field":"v","type":"quantitative","scale":{"domain":[-0.953,1.199],"nice":false}}}},
{"mark":{"type":"rule","color":"black","strokeWidth":1.5},"encoding":{"x":{"datum":0,"type":"quantitative","scale":{"domain":[-108,492],"nice":false}},"x2":{"datum":417.7},"y":{"datum":0,"type":"quantitative","scale":{"domain":[-0.953,1.199],"nice":false}}}},
{"mark":{"type":"point","shape":"M1,0L-1,-0.57L-1,0.57Z","size":144,"filled":true,"color":"black","opacity":1},"encoding":{"x":{"datum":417.7,"type":"quantitative","scale":{"domain":[-108,492],"nice":false}},"y":{"datum":0,"type":"quantitative","scale":{"domain":[-0.953,1.199],"nice":false}}}},
{"mark":{"type":"rule","color":"black","strokeWidth":1.5},"encoding":{"x":{"datum":0,"type":"quantitative","scale":{"domain":[-108,492],"nice":false}},"y":{"datum":1.02,"type":"quantitative","scale":{"domain":[-0.953,1.199],"nice":false}},"y2":{"datum":-0.915}}},
{"mark":{"type":"point","shape":"M0,-1L-0.57,1L0.57,1Z","size":196,"filled":true,"color":"black","opacity":1},"encoding":{"x":{"datum":0,"type":"quantitative","scale":{"domain":[-108,492],"nice":false}},"y":{"datum":1.072,"type":"quantitative","scale":{"domain":[-0.953,1.199],"nice":false}}}},
{"mark":{"type":"rule","color":"#555","strokeWidth":1.3},"encoding":{"x":{"datum":-99,"type":"quantitative","scale":{"domain":[-108,492],"nice":false}},"y":{"datum":1.199,"type":"quantitative","scale":{"domain":[-0.953,1.199],"nice":false}},"y2":{"datum":-0.953}}},
{"mark":{"type":"text","text":"e","fontSize":24,"align":"left","baseline":"alphabetic"},"encoding":{"x":{"datum":-26.3,"type":"quantitative","scale":{"domain":[-108,492],"nice":false}},"y":{"datum":0.863,"type":"quantitative","scale":{"domain":[-0.953,1.199],"nice":false}}}},
{"mark":{"type":"text","text":"b","fontSize":15,"align":"left","baseline":"alphabetic"},"encoding":{"x":{"datum":-13.7,"type":"quantitative","scale":{"domain":[-108,492],"nice":false}},"y":{"datum":0.832,"type":"quantitative","scale":{"domain":[-0.953,1.199],"nice":false}}}},
{"mark":{"type":"text","text":"i","fontSize":24,"align":"left","baseline":"alphabetic"},"encoding":{"x":{"datum":-26.3,"type":"quantitative","scale":{"domain":[-108,492],"nice":false}},"y":{"datum":0.477,"type":"quantitative","scale":{"domain":[-0.953,1.199],"nice":false}}}},
{"mark":{"type":"text","text":"b","fontSize":15,"align":"left","baseline":"alphabetic"},"encoding":{"x":{"datum":-21.5,"type":"quantitative","scale":{"domain":[-108,492],"nice":false}},"y":{"datum":0.439,"type":"quantitative","scale":{"domain":[-0.953,1.199],"nice":false}}}},
{"mark":{"type":"text","text":"0","fontSize":23,"align":"left","baseline":"alphabetic"},"encoding":{"x":{"datum":-18,"type":"quantitative","scale":{"domain":[-108,492],"nice":false}},"y":{"datum":-0.096,"type":"quantitative","scale":{"domain":[-0.953,1.199],"nice":false}}}},
{"mark":{"type":"text","text":"t","fontSize":20,"align":"left","baseline":"alphabetic"},"encoding":{"x":{"datum":408,"type":"quantitative","scale":{"domain":[-108,492],"nice":false}},"y":{"datum":-0.329,"type":"quantitative","scale":{"domain":[-0.953,1.199],"nice":false}}}}
]}
]},
{"width":600,"height":170,"data":{"values":[{}]},"resolve":{"scale":{"x":"independent"}},
"layer":[
{"data":{"name":"volt"},"transform":[{"filter":"datum.h>=0 && datum.h<=210"}],"mark":{"type":"line","interpolate":"monotone","strokeDash":[2.5,3],"strokeWidth":1.1,"color":"#1a1a1a"},"encoding":{"x":{"field":"h","type":"quantitative","scale":{"domain":[-54.45,248.07],"nice":false}},"y":{"field":"v","type":"quantitative","scale":{"domain":[-0.9625,1.1625],"nice":false}},"detail":{"field":"k","type":"nominal"}}},
{"layer":[
{"data":{"name":"pwm"},"transform":[{"filter":"datum.p=='c'"}],"mark":{"type":"rect","filled":false,"color":"black","strokeWidth":1.6},"encoding":{"x":{"field":"a","type":"quantitative","scale":{"domain":[-108,492],"nice":false}},"x2":{"field":"b"},"y":{"field":"v","type":"quantitative","scale":{"domain":[-0.9625,1.1625],"nice":false}},"y2":{"datum":0}}},
{"data":{"name":"spk"},"transform":[{"filter":"datum.p=='c'"}],"mark":{"type":"rule","color":"black","strokeWidth":1.4},"encoding":{"x":{"field":"t","type":"quantitative","scale":{"domain":[-108,492],"nice":false}},"y":{"field":"v","type":"quantitative","scale":{"domain":[-0.9625,1.1625],"nice":false}},"y2":{"datum":0}}},
{"data":{"name":"cur"},"transform":[{"filter":"datum.p=='c'"}],"mark":{"type":"line","interpolate":"monotone","color":"black","strokeWidth":2.8},"encoding":{"x":{"field":"t","type":"quantitative","scale":{"domain":[-108,492],"nice":false}},"y":{"field":"v","type":"quantitative","scale":{"domain":[-0.9625,1.1625],"nice":false}}}},
{"mark":{"type":"rule","color":"black","strokeWidth":1.5},"encoding":{"x":{"datum":0,"type":"quantitative","scale":{"domain":[-108,492],"nice":false}},"x2":{"datum":421},"y":{"datum":0,"type":"quantitative","scale":{"domain":[-0.9625,1.1625],"nice":false}}}},
{"mark":{"type":"point","shape":"M1,0L-1,-0.57L-1,0.57Z","size":144,"filled":true,"color":"black","opacity":1},"encoding":{"x":{"datum":421,"type":"quantitative","scale":{"domain":[-108,492],"nice":false}},"y":{"datum":0,"type":"quantitative","scale":{"domain":[-0.9625,1.1625],"nice":false}}}},
{"mark":{"type":"rule","color":"black","strokeWidth":1.5},"encoding":{"x":{"datum":0,"type":"quantitative","scale":{"domain":[-108,492],"nice":false}},"y":{"datum":1.0,"type":"quantitative","scale":{"domain":[-0.9625,1.1625],"nice":false}},"y2":{"datum":-0.95}}},
{"mark":{"type":"point","shape":"M0,-1L-0.57,1L0.57,1Z","size":196,"filled":true,"color":"black","opacity":1},"encoding":{"x":{"datum":0,"type":"quantitative","scale":{"domain":[-108,492],"nice":false}},"y":{"datum":1.0375,"type":"quantitative","scale":{"domain":[-0.9625,1.1625],"nice":false}}}},
{"mark":{"type":"rule","color":"#555","strokeWidth":1.3},"encoding":{"x":{"datum":-99,"type":"quantitative","scale":{"domain":[-108,492],"nice":false}},"y":{"datum":1.1625,"type":"quantitative","scale":{"domain":[-0.9625,1.1625],"nice":false}},"y2":{"datum":-0.9625}}},
{"mark":{"type":"text","text":"e","fontSize":24,"align":"left","baseline":"alphabetic"},"encoding":{"x":{"datum":-26.3,"type":"quantitative","scale":{"domain":[-108,492],"nice":false}},"y":{"datum":0.8525,"type":"quantitative","scale":{"domain":[-0.9625,1.1625],"nice":false}}}},
{"mark":{"type":"text","text":"c","fontSize":15,"align":"left","baseline":"alphabetic"},"encoding":{"x":{"datum":-13.7,"type":"quantitative","scale":{"domain":[-108,492],"nice":false}},"y":{"datum":0.821,"type":"quantitative","scale":{"domain":[-0.9625,1.1625],"nice":false}}}},
{"mark":{"type":"text","text":"i","fontSize":24,"align":"left","baseline":"alphabetic"},"encoding":{"x":{"datum":-26.3,"type":"quantitative","scale":{"domain":[-108,492],"nice":false}},"y":{"datum":0.471,"type":"quantitative","scale":{"domain":[-0.9625,1.1625],"nice":false}}}},
{"mark":{"type":"text","text":"c","fontSize":15,"align":"left","baseline":"alphabetic"},"encoding":{"x":{"datum":-21.5,"type":"quantitative","scale":{"domain":[-108,492],"nice":false}},"y":{"datum":0.434,"type":"quantitative","scale":{"domain":[-0.9625,1.1625],"nice":false}}}},
{"mark":{"type":"text","text":"0","fontSize":23,"align":"left","baseline":"alphabetic"},"encoding":{"x":{"datum":-18,"type":"quantitative","scale":{"domain":[-108,492],"nice":false}},"y":{"datum":-0.095,"type":"quantitative","scale":{"domain":[-0.9625,1.1625],"nice":false}}}},
{"mark":{"type":"text","text":"t","fontSize":20,"align":"left","baseline":"alphabetic"},"encoding":{"x":{"datum":414,"type":"quantitative","scale":{"domain":[-108,492],"nice":false}},"y":{"datum":-0.304,"type":"quantitative","scale":{"domain":[-0.9625,1.1625],"nice":false}}}}
]}
]},
{"width":600,"height":91.7,"data":{"values":[{}]},
"layer":[
{"data":{"name":"car"},"mark":{"type":"line","color":"black","strokeWidth":1.2},"encoding":{"x":{"field":"t","type":"quantitative","scale":{"domain":[-108,492],"nice":false}},"y":{"field":"v","type":"quantitative","scale":{"domain":[-0.971,1.0667],"nice":false}}}},
{"data":{"name":"mod"},"mark":{"type":"line","interpolate":"cardinal","color":"black","strokeWidth":2.4},"encoding":{"x":{"field":"t","type":"quantitative","scale":{"domain":[-108,492],"nice":false}},"y":{"field":"v","type":"quantitative","scale":{"domain":[-0.971,1.0667],"nice":false}},"detail":{"field":"n","type":"nominal"}}},
{"mark":{"type":"rule","color":"black","strokeWidth":1.5},"encoding":{"x":{"datum":0,"type":"quantitative","scale":{"domain":[-108,492],"nice":false}},"x2":{"datum":421},"y":{"datum":0,"type":"quantitative","scale":{"domain":[-0.971,1.0667],"nice":false}}}},
{"mark":{"type":"point","shape":"M1,0L-1,-0.57L-1,0.57Z","size":144,"filled":true,"color":"black","opacity":1},"encoding":{"x":{"datum":421,"type":"quantitative","scale":{"domain":[-108,492],"nice":false}},"y":{"datum":0,"type":"quantitative","scale":{"domain":[-0.971,1.0667],"nice":false}}}},
{"mark":{"type":"rule","color":"black","strokeWidth":1.5},"encoding":{"x":{"datum":0,"type":"quantitative","scale":{"domain":[-108,492],"nice":false}},"y":{"datum":0.8,"type":"quantitative","scale":{"domain":[-0.971,1.0667],"nice":false}},"y2":{"datum":-0.971}}},
{"mark":{"type":"point","shape":"M0,-1L-0.57,1L0.57,1Z","size":196,"filled":true,"color":"black","opacity":1},"encoding":{"x":{"datum":0,"type":"quantitative","scale":{"domain":[-108,492],"nice":false}},"y":{"datum":0.867,"type":"quantitative","scale":{"domain":[-0.971,1.0667],"nice":false}}}},
{"mark":{"type":"rule","color":"#555","strokeWidth":1.3},"encoding":{"x":{"datum":-99,"type":"quantitative","scale":{"domain":[-108,492],"nice":false}},"y":{"datum":1.0667,"type":"quantitative","scale":{"domain":[-0.971,1.0667],"nice":false}},"y2":{"datum":-0.971}}},
{"mark":{"type":"text","text":"x","fontSize":20,"align":"right","baseline":"alphabetic"},"encoding":{"x":{"datum":-19,"type":"quantitative","scale":{"domain":[-108,492],"nice":false}},"y":{"datum":0.489,"type":"quantitative","scale":{"domain":[-0.971,1.0667],"nice":false}}}},
{"mark":{"type":"text","text":"a","fontSize":14,"align":"left","baseline":"alphabetic"},"encoding":{"x":{"datum":-18.5,"type":"quantitative","scale":{"domain":[-108,492],"nice":false}},"y":{"datum":0.422,"type":"quantitative","scale":{"domain":[-0.971,1.0667],"nice":false}}}},
{"mark":{"type":"text","text":"x","fontSize":20,"align":"right","baseline":"alphabetic"},"encoding":{"x":{"datum":-19,"type":"quantitative","scale":{"domain":[-108,492],"nice":false}},"y":{"datum":0.044,"type":"quantitative","scale":{"domain":[-0.971,1.0667],"nice":false}}}},
{"mark":{"type":"text","text":"b","fontSize":14,"align":"left","baseline":"alphabetic"},"encoding":{"x":{"datum":-18.5,"type":"quantitative","scale":{"domain":[-108,492],"nice":false}},"y":{"datum":-0.022,"type":"quantitative","scale":{"domain":[-0.971,1.0667],"nice":false}}}},
{"mark":{"type":"text","text":"x","fontSize":20,"align":"right","baseline":"alphabetic"},"encoding":{"x":{"datum":-19,"type":"quantitative","scale":{"domain":[-108,492],"nice":false}},"y":{"datum":-0.511,"type":"quantitative","scale":{"domain":[-0.971,1.0667],"nice":false}}}},
{"mark":{"type":"text","text":"c","fontSize":14,"align":"left","baseline":"alphabetic"},"encoding":{"x":{"datum":-18.5,"type":"quantitative","scale":{"domain":[-108,492],"nice":false}},"y":{"datum":-0.578,"type":"quantitative","scale":{"domain":[-0.971,1.0667],"nice":false}}}},
{"mark":{"type":"text","text":"t","fontSize":20,"align":"left","baseline":"alphabetic"},"encoding":{"x":{"datum":402.7,"type":"quantitative","scale":{"domain":[-108,492],"nice":false}},"y":{"datum":-0.644,"type":"quantitative","scale":{"domain":[-0.971,1.0667],"nice":false}}}}
]},
{"data":{"name":"pul"},"spacing":{"row":0},"bounds":"flush",
"facet":{"row":{"field":"s","type":"nominal","sort":["fa","fb","fc","S1","S2","S3","S4","S5","S6","S7","S8","S9"],"header":null}},
"spec":{"width":600,"height":22.3,
"layer":[
{"transform":[{"filter":"isValid(datum.a)"}],"mark":{"type":"rect","filled":false,"color":"black","strokeWidth":1.7},"encoding":{"x":{"field":"a","type":"quantitative","scale":{"domain":[-108,492],"nice":false}},"x2":{"field":"b"},"y":{"datum":0,"type":"quantitative","scale":{"domain":[-0.5,1.73],"nice":false}},"y2":{"datum":1.0}}},
{"transform":[{"filter":"isValid(datum.m)"}],"mark":{"type":"rule","color":"black","strokeWidth":1.7},"encoding":{"x":{"datum":0,"type":"quantitative","scale":{"domain":[-108,492],"nice":false}},"x2":{"datum":411},"y":{"datum":0,"type":"quantitative","scale":{"domain":[-0.5,1.73],"nice":false}}}},
{"transform":[{"filter":"isValid(datum.m)"}],"mark":{"type":"rule","color":"black","strokeWidth":1.5},"encoding":{"x":{"datum":0,"type":"quantitative","scale":{"domain":[-108,492],"nice":false}},"y":{"datum":1.73,"type":"quantitative","scale":{"domain":[-0.5,1.73],"nice":false}},"y2":{"datum":-0.5}}},
{"transform":[{"filter":"isValid(datum.m)"}],"mark":{"type":"rule","color":"#555","strokeWidth":1.3},"encoding":{"x":{"datum":-99,"type":"quantitative","scale":{"domain":[-108,492],"nice":false}},"y":{"datum":1.73,"type":"quantitative","scale":{"domain":[-0.5,1.73],"nice":false}},"y2":{"datum":-0.5}}},
{"transform":[{"filter":"isValid(datum.m)"}],"mark":{"type":"text","fontSize":20,"align":"right","baseline":"alphabetic"},"encoding":{"text":{"field":"m"},"x":{"datum":-15.5,"type":"quantitative","scale":{"domain":[-108,492],"nice":false}},"y":{"datum":-0.25,"type":"quantitative","scale":{"domain":[-0.5,1.73],"nice":false}}}},
{"transform":[{"filter":"isValid(datum.m)"}],"mark":{"type":"text","fontSize":14,"align":"left","baseline":"alphabetic"},"encoding":{"text":{"field":"u"},"x":{"datum":-15,"type":"quantitative","scale":{"domain":[-108,492],"nice":false}},"y":{"datum":-0.55,"type":"quantitative","scale":{"domain":[-0.5,1.73],"nice":false}}}}
]}},
{"width":600,"height":18.7,"data":{"values":[{}]},"mark":{"type":"rule","color":"#555","strokeWidth":1.3},"encoding":{"x":{"datum":-99,"type":"quantitative","scale":{"domain":[-108,492],"nice":false}},"y":{"datum":0,"type":"quantitative","scale":{"domain":[0,1],"nice":false}},"y2":{"datum":1}}}
]
}
